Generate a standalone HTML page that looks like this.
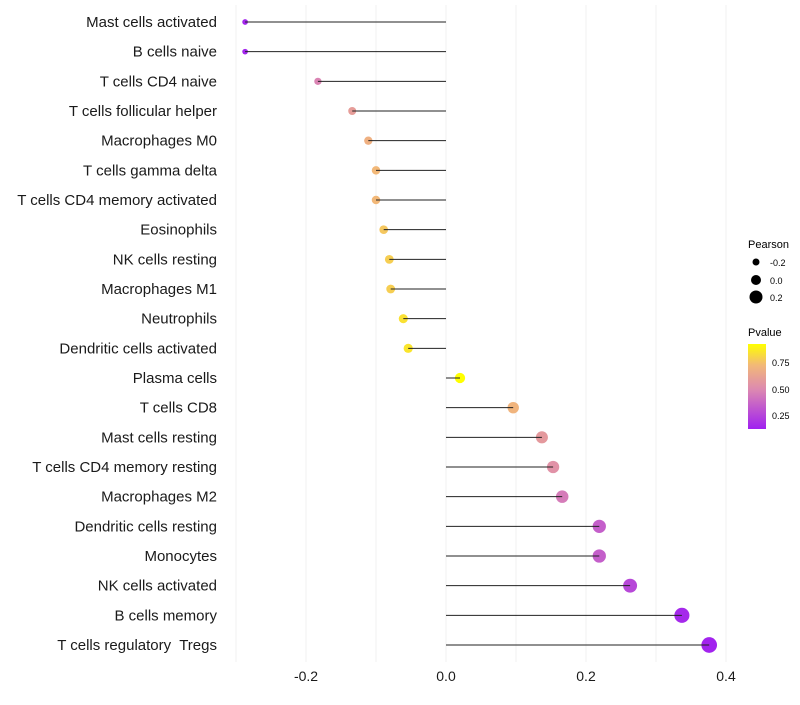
<!DOCTYPE html>
<html><head><meta charset="utf-8"><style>
body{margin:0;background:#fff;font-family:"Liberation Sans",sans-serif}
text{white-space:pre}
</style></head><body>
<svg id="chart" width="800" height="700" xmlns="http://www.w3.org/2000/svg">
<defs><linearGradient id="pg" x1="0" y1="1" x2="0" y2="0">
<stop offset="0" stop-color="#A020F0"/><stop offset="0.47" stop-color="#DD8AB0"/><stop offset="0.75" stop-color="#F2B878"/><stop offset="1" stop-color="#FFFF00"/></linearGradient></defs>
<g id="grid"></g><g id="marks"></g><g id="ylabels"></g><g id="xlabels"></g>
<g font-size="10">
<text x="748" y="248" font-size="11">Pearson</text>
<circle cx="756" cy="262" r="3.5"/><text x="770" y="266" font-size="9">-0.2</text>
<circle cx="756" cy="280" r="5"/><text x="770" y="284" font-size="9">0.0</text>
<circle cx="756" cy="297" r="6.5"/><text x="770" y="301" font-size="9">0.2</text>
</g>
<g>
<text x="748" y="336" font-size="11">Pvalue</text>
<rect x="748" y="344" width="18" height="85" fill="url(#pg)"/>
<text x="772" y="366" font-size="9">0.75</text>
<text x="772" y="393" font-size="9">0.50</text>
<text x="772" y="419" font-size="9">0.25</text>
</g>
</svg>
<script>
const cells=["Mast cells activated","B cells naive","T cells CD4 naive","T cells follicular helper","Macrophages M0","T cells gamma delta","T cells CD4 memory activated","Eosinophils","NK cells resting","Macrophages M1","Neutrophils","Dendritic cells activated","Plasma cells","T cells CD8","Mast cells resting","T cells CD4 memory resting","Macrophages M2","Dendritic cells resting","Monocytes","NK cells activated","B cells memory","T cells regulatory  Tregs"];
const pearson=[-0.287,-0.287,-0.183,-0.134,-0.111,-0.1,-0.1,-0.089,-0.081,-0.079,-0.061,-0.054,0.02,0.096,0.137,0.153,0.166,0.219,0.219,0.263,0.337,0.376];
const pvalue=[0.15,0.15,0.48,0.6,0.7,0.74,0.74,0.78,0.8,0.8,0.85,0.86,0.93,0.72,0.58,0.54,0.45,0.35,0.35,0.27,0.16,0.14];
const xTicks=[-0.2,0,0.2,0.4];
const xTickLabels=["-0.2","0.0","0.2","0.4"];
const xGrid=[-0.3,-0.2,-0.1,0,0.1,0.2,0.3,0.4];
const NS="http://www.w3.org/2000/svg";
const x=v=>446+v*700;
const y=i=>22+i*(623/21);
function mk(t,a,p){const e=document.createElementNS(NS,t);for(const k in a)e.setAttribute(k,a[k]);p.appendChild(e);return e;}
function lerp(a,b,t){return a.map((v,i)=>Math.round(v+(b[i]-v)*t));}
const stops=[[0.13,[160,32,240]],[0.5,[221,138,176]],[0.74,[242,184,120]],[0.93,[255,255,0]]];
function col(p){p=Math.max(0.13,Math.min(0.93,p));for(let i=0;i<stops.length-1;i++){if(p<=stops[i+1][0]){const t=(p-stops[i][0])/(stops[i+1][0]-stops[i][0]);return "rgb("+lerp(stops[i][1],stops[i+1][1],t).join(",")+")";}}return "rgb(255,255,0)";}
const g=document.getElementById('grid');
xGrid.forEach(v=>{const l=mk('line',{x1:x(v),x2:x(v),y1:5,y2:662,stroke:'#f0f0f0','stroke-width':1},g);

});
const m=document.getElementById('marks'),yl=document.getElementById('ylabels'),xl=document.getElementById('xlabels');
cells.forEach((c,i)=>{
const d=mk('circle',{cx:x(pearson[i]),cy:y(i),r:Math.max(1.8,5+7.5*pearson[i]),fill:col(pvalue[i])},m);


const s=mk('line',{x1:x(0),x2:x(pearson[i]),y1:y(i),y2:y(i),stroke:'#222','stroke-width':1},m);


const t=mk('text',{x:217,y:y(i)+5,'text-anchor':'end','font-size':15,fill:'#1a1a1a'},yl);t.textContent=c;


});
xTicks.forEach((v,i)=>{const t=mk('text',{x:x(v),y:681,'text-anchor':'middle','font-size':14,fill:'#1a1a1a'},xl);t.textContent=xTickLabels[i];

});
</script>
</body></html>
